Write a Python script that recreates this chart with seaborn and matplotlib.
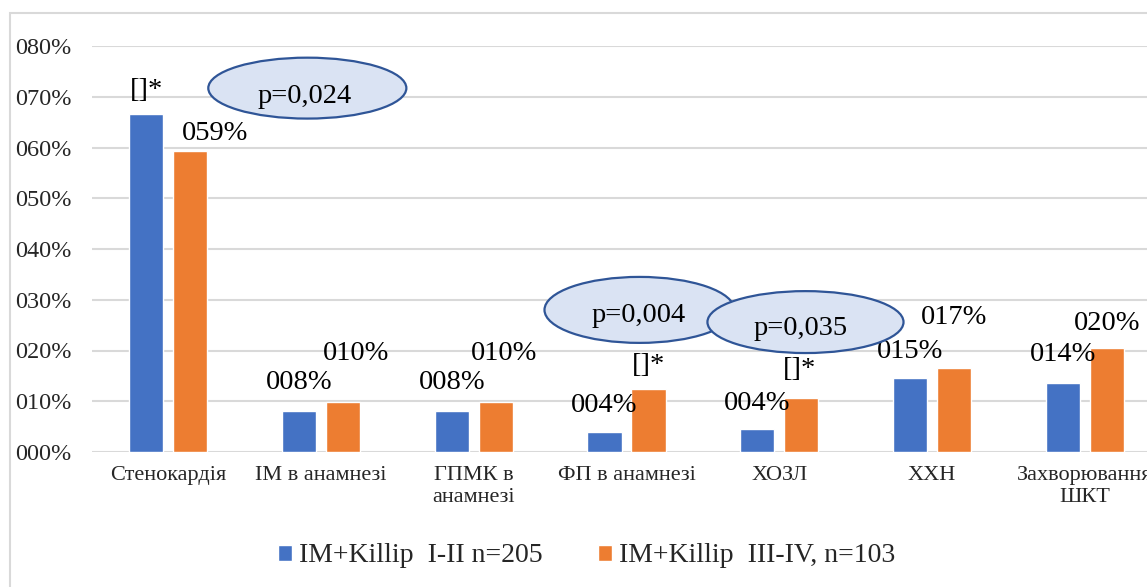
import numpy as np
import pandas as pd
import seaborn as sns
import matplotlib.pyplot as plt
from matplotlib.patches import Ellipse, Rectangle

# data
categories = ["Стенокардія", "ІМ в анамнезі", "ГПМК в\nанамнезі", "ФП в анамнезі",
              "ХОЗЛ", "ХХН", "Захворювання\nШКТ"]
group_names = ["ІМ+Killip  I-II n=205", "ІМ+Killip  III-IV, n=103"]
killip_1_2 = [0.666, 0.081, 0.081, 0.039, 0.045, 0.146, 0.135]
killip_3_4 = [0.593, 0.098, 0.098, 0.125, 0.107, 0.165, 0.204]
labels_1_2 = ["[]*", "008%", "008%", "004%", "004%", "015%", "014%"]
labels_3_4 = ["059%", "010%", "010%", "[]*", "[]*", "017%", "020%"]
ytick_vals = [0.0, 0.1, 0.2, 0.3, 0.4, 0.5, 0.6, 0.7, 0.8]
ytick_labels = ["000%", "010%", "020%", "030%", "040%", "050%", "060%", "070%", "080%"]
p_values = ["p=0,024", "p=0,004", "p=0,035"]

colors = ["#4472C4", "#ED7D31"]

df = pd.DataFrame({
    "category": categories * 2,
    "value": killip_1_2 + killip_3_4,
    "group": [group_names[0]] * len(categories) + [group_names[1]] * len(categories),
})

sns.set_style("white")
plt.rcParams['font.family'] = ['Liberation Serif', 'DejaVu Serif']

W, H = 1147, 587
fig = plt.figure(figsize=(W / 100, H / 100), dpi=100)
ax = fig.add_axes([92 / W, 135 / H, (1161 - 92) / W, 406 / H])

sns.barplot(data=df, x="category", y="value", hue="group", palette=colors,
            width=0.576, gap=0.226, saturation=1, ax=ax)

handles, labs = ax.get_legend_handles_labels()
ax.get_legend().remove()

ax.set_xlim(-0.5, 6.5)
ax.set_ylim(0, 0.8)
ax.set_yticks(ytick_vals)
ax.set_yticklabels(ytick_labels, fontsize=17.5)
ax.set_xlabel("")
ax.set_ylabel("")
ax.tick_params(axis='y', length=0, pad=15)
ax.tick_params(axis='x', length=0, pad=10, labelsize=16)
ax.yaxis.grid(True, color="#d9d9d9", lw=1.5)
ax.set_axisbelow(True)
for s in ax.spines.values():
    s.set_visible(False)

# data labels (offsets in pixels from the bar top, as moved in the original)
offs_1_2 = [(0, 24), (0, 28), (0, 28), (0, 27), (0, 26), (0, 26), (0, 29)]
offs_3_4 = [(25, 18), (13, 49), (8, 49), (0, 23), (-2, 28), (0, 51), (0, 25)]
for cont, labels, offs in [(ax.containers[0], labels_1_2, offs_1_2),
                           (ax.containers[1], labels_3_4, offs_3_4)]:
    for bar, txt, (dx, dy) in zip(cont, labels, offs):
        ax.annotate(txt, xy=(bar.get_x() + bar.get_width() / 2, bar.get_height()),
                    xytext=(dx, dy), textcoords='offset pixels',
                    ha='center', va='center', fontsize=20.5, color='black',
                    zorder=10, annotation_clip=False)

# p-value ellipses (center x, center y, width, height) in axis units
ellipses = [(0.910, 0.717, 1.297, 0.120), (3.085, 0.280, 1.244, 0.130),
            (4.172, 0.256, 1.284, 0.122)]
text_offs = [(-3, -8), (-1, -6), (-5, -6)]
for i, (txt, (cx, cy, w, h), (dx, dy)) in enumerate(zip(p_values, ellipses, text_offs)):
    e = Ellipse((cx, cy), w, h, facecolor="#DAE3F3", edgecolor="#2F5597",
                lw=1.6, zorder=20 + 2 * i, clip_on=False)
    ax.add_patch(e)
    ax.annotate(txt, xy=(cx, cy), xytext=(dx, dy), textcoords='offset pixels',
                ha='center', va='center', fontsize=20.5, color='black',
                zorder=21 + 2 * i)

fig.legend(handles, labs, loc='center', bbox_to_anchor=(587 / W, 1 - 556 / H),
           ncol=2, frameon=False, fontsize=20, handlelength=0.5, handleheight=0.5,
           handletextpad=0.25, columnspacing=2.0)

# chart area border, cut off at right and bottom like the original
fig.add_artist(Rectangle((10 / W, -0.05), 1.1, 1.05 - 13 / H, transform=fig.transFigure,
                         fill=False, edgecolor="#d9d9d9", lw=1.5))

fig.savefig("out.png", dpi=100)
